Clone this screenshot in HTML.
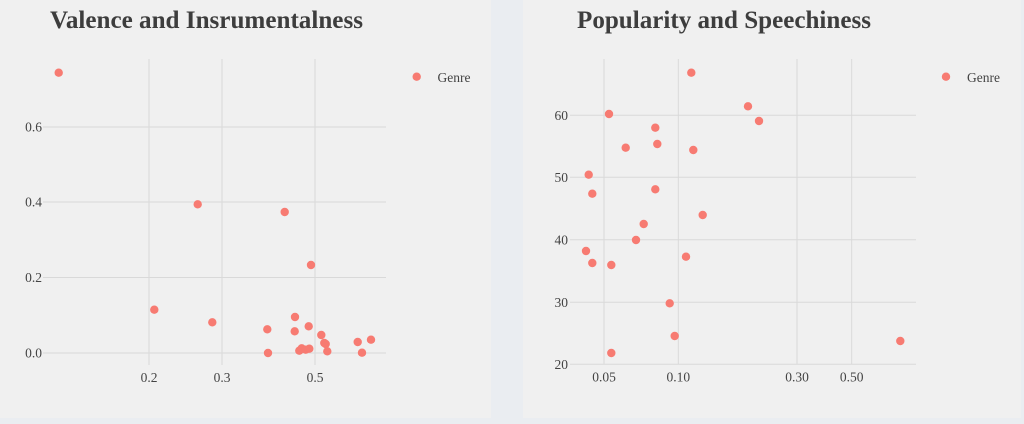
<!DOCTYPE html>
<html><head><meta charset="utf-8">
<style>
html,body{margin:0;padding:0;background:#eaedf1;}
svg{display:block;}
text{font-family:"Liberation Serif","Times New Roman",serif;}
</style></head>
<body>
<svg width="1024" height="424" viewBox="0 0 1024 424" xmlns="http://www.w3.org/2000/svg">
<rect x="0" y="0" width="1024" height="424" fill="#eaedf1"/>
<rect x="0" y="0" width="491" height="418" fill="#f0f0f0"/>
<rect x="523" y="0" width="498" height="418" fill="#f0f0f0"/>

<!-- LEFT PLOT -->
<text x="50" y="28" font-size="25" font-weight="bold" fill="#3d3d3d" textLength="313" lengthAdjust="spacingAndGlyphs">Valence and Insrumentalness</text>
<g stroke="#d9d9d9" stroke-width="1" fill="none">
<line x1="43" y1="127" x2="386" y2="127"/>
<line x1="43" y1="202" x2="386" y2="202"/>
<line x1="43" y1="277.5" x2="386" y2="277.5"/>
<line x1="43" y1="353" x2="386" y2="353"/>
<line x1="149" y1="59" x2="149" y2="365"/>
<line x1="222" y1="59" x2="222" y2="365"/>
<line x1="315" y1="59" x2="315" y2="365"/>
</g>
<g font-size="13.5" fill="#444" text-anchor="end">
<text x="42" y="131.5">0.6</text>
<text x="42" y="206.5">0.4</text>
<text x="42" y="282">0.2</text>
<text x="42" y="357.5">0.0</text>
</g>
<g font-size="13.5" fill="#444" text-anchor="middle">
<text x="149" y="382">0.2</text>
<text x="222" y="382">0.3</text>
<text x="315" y="382">0.5</text>
</g>
<g fill="#f77b72">
<circle cx="58.7" cy="72.7" r="4.2"/>
<circle cx="197.7" cy="204.3" r="4.2"/>
<circle cx="284.7" cy="212" r="4.2"/>
<circle cx="311" cy="265" r="4.2"/>
<circle cx="154.3" cy="309.7" r="4.2"/>
<circle cx="212.3" cy="322.3" r="4.2"/>
<circle cx="267.3" cy="329.3" r="4.2"/>
<circle cx="268" cy="353" r="4.2"/>
<circle cx="295" cy="317" r="4.2"/>
<circle cx="294.7" cy="331.3" r="4.2"/>
<circle cx="308.7" cy="326.3" r="4.2"/>
<circle cx="321.3" cy="335" r="4.2"/>
<circle cx="324.3" cy="343" r="4.2"/>
<circle cx="325.7" cy="344" r="4.2"/>
<circle cx="327.3" cy="351.3" r="4.2"/>
<circle cx="299.3" cy="350.7" r="4.2"/>
<circle cx="301.7" cy="348.3" r="4.2"/>
<circle cx="305.7" cy="349.7" r="4.2"/>
<circle cx="309.3" cy="348.7" r="4.2"/>
<circle cx="357.7" cy="342" r="4.2"/>
<circle cx="362" cy="352.7" r="4.2"/>
<circle cx="371" cy="339.7" r="4.2"/>
<circle cx="416.7" cy="76.7" r="4.2"/>
</g>
<text x="437.5" y="82" font-size="13.5" fill="#444">Genre</text>

<!-- RIGHT PLOT -->
<text x="577" y="28" font-size="25" font-weight="bold" fill="#3d3d3d" textLength="294" lengthAdjust="spacingAndGlyphs">Popularity and Speechiness</text>
<g stroke="#d9d9d9" stroke-width="1" fill="none">
<line x1="570" y1="115.3" x2="916" y2="115.3"/>
<line x1="570" y1="177.3" x2="916" y2="177.3"/>
<line x1="570" y1="239.7" x2="916" y2="239.7"/>
<line x1="570" y1="302.3" x2="916" y2="302.3"/>
<line x1="570" y1="364.3" x2="916" y2="364.3"/>
<line x1="604" y1="59" x2="604" y2="364"/>
<line x1="678.3" y1="59" x2="678.3" y2="364"/>
<line x1="797" y1="59" x2="797" y2="364"/>
<line x1="851.7" y1="59" x2="851.7" y2="364"/>
</g>
<g font-size="13.5" fill="#444" text-anchor="end">
<text x="568" y="120">60</text>
<text x="568" y="182">50</text>
<text x="568" y="244.5">40</text>
<text x="568" y="307">30</text>
<text x="568" y="369">20</text>
</g>
<g font-size="13.5" fill="#444" text-anchor="middle">
<text x="604" y="381.5">0.05</text>
<text x="678.3" y="381.5">0.10</text>
<text x="797" y="381.5">0.30</text>
<text x="851.7" y="381.5">0.50</text>
</g>
<g fill="#f77b72">
<circle cx="691.3" cy="72.7" r="4.2"/>
<circle cx="609" cy="114" r="4.2"/>
<circle cx="748" cy="106.3" r="4.2"/>
<circle cx="759" cy="121" r="4.2"/>
<circle cx="655.3" cy="127.7" r="4.2"/>
<circle cx="657.3" cy="144" r="4.2"/>
<circle cx="625.7" cy="147.7" r="4.2"/>
<circle cx="693.3" cy="150" r="4.2"/>
<circle cx="588.7" cy="174.7" r="4.2"/>
<circle cx="592.3" cy="193.7" r="4.2"/>
<circle cx="655.3" cy="189.3" r="4.2"/>
<circle cx="702.7" cy="215" r="4.2"/>
<circle cx="643.7" cy="224" r="4.2"/>
<circle cx="636" cy="240" r="4.2"/>
<circle cx="586" cy="251" r="4.2"/>
<circle cx="592.3" cy="263" r="4.2"/>
<circle cx="611.3" cy="265" r="4.2"/>
<circle cx="686" cy="256.7" r="4.2"/>
<circle cx="669.7" cy="303.3" r="4.2"/>
<circle cx="674.7" cy="336" r="4.2"/>
<circle cx="611.3" cy="353" r="4.2"/>
<circle cx="900.3" cy="341" r="4.2"/>
<circle cx="946" cy="76.7" r="4.2"/>
</g>
<text x="967" y="82" font-size="13.5" fill="#444">Genre</text>
</svg>
</body></html>
